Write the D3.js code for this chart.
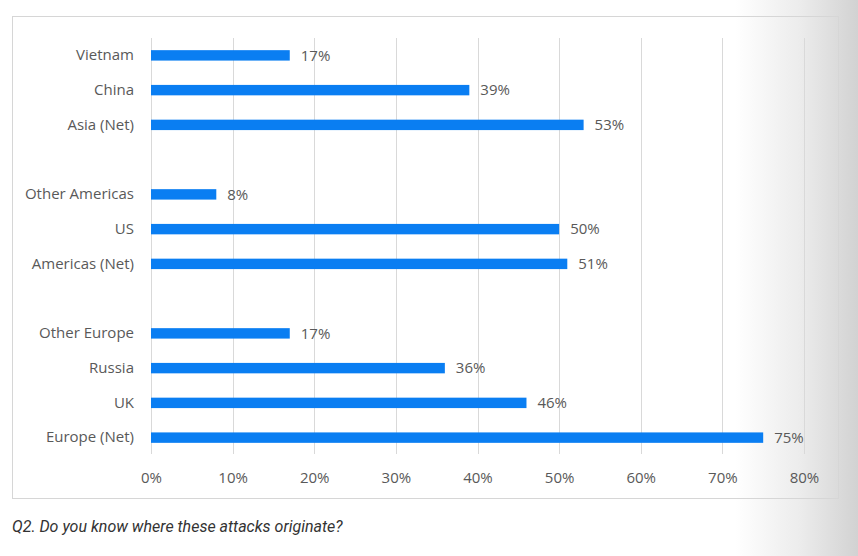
<!DOCTYPE html>
<html>
<head>
<meta charset="utf-8">
<script src="https://cdn.jsdelivr.net/npm/d3@7"></script>
<style>
  html, body { margin: 0; padding: 0; }
  body {
    width: 858px; height: 556px; overflow: hidden;
    background: linear-gradient(to right, #fff 0px, #fff 735px, #ececec 800px, #d2d2d2 858px);
  }
</style>
</head>
<body>
<div id="chart"></div>
<script>
// categories top to bottom, blanks separate the regional groups
const categories = ["Vietnam", "China", "Asia (Net)", "", "Other Americas", "US", "Americas (Net)", " ",
                    "Other Europe", "Russia", "UK", "Europe (Net)"];
const values = [17, 39, 53, null, 8, 50, 51, null, 17, 36, 46, 75];
const ticks = [0, 10, 20, 30, 40, 50, 60, 70, 80];
const caption = "Q2. Do you know where these attacks originate?";

const W = 858, H = 556;
const margin = {top: 38, right: 54, bottom: 101, left: 151};
const font = "'Open Sans', sans-serif";

const svg = d3.select("#chart")
    .append("svg")
    .attr("width", W)
    .attr("height", H);

// frame round the chart
svg.append("rect")
    .attr("x", 12.5).attr("y", 16.5)
    .attr("width", 826).attr("height", 482)
    .attr("fill", "none")
    .attr("stroke", "#d6d6d6")
    .attr("stroke-width", 1);

const x = d3.scaleLinear()
    .domain([0, 80])
    .range([margin.left, 804]);

const y = d3.scaleBand()
    .domain(categories)
    .range([margin.top, 455])
    .paddingInner(0.7)
    .paddingOuter(0.35);

// vertical gridlines
svg.append("g")
    .selectAll("line")
    .data(ticks)
    .join("line")
    .attr("x1", d => Math.round(x(d)) + 0.5)
    .attr("x2", d => Math.round(x(d)) + 0.5)
    .attr("y1", margin.top)
    .attr("y2", 454)
    .attr("stroke", "#d9d9d9")
    .attr("stroke-width", 1);

// x axis labels
const xAxis = svg.append("g")
    .attr("transform", "translate(0, 454)")
    .call(d3.axisBottom(x).tickValues(ticks).tickFormat(d => d + "%").tickSize(0).tickPadding(18));
xAxis.select(".domain").remove();
xAxis.selectAll("text")
    .attr("fill", "#595959")
    .style("font-family", font)
    .style("font-size", "15px");

// y axis labels
const yAxis = svg.append("g")
    .attr("transform", `translate(${margin.left}, 0)`)
    .call(d3.axisLeft(y).tickSize(0).tickPadding(17));
yAxis.select(".domain").remove();
yAxis.selectAll("text")
    .attr("fill", "#595959")
    .style("font-family", font)
    .style("font-size", "15px");

const data = categories.map((c, i) => ({cat: c, val: values[i]})).filter(d => d.val !== null);

// bars
svg.append("g")
    .selectAll("rect")
    .data(data)
    .join("rect")
    .attr("x", x(0))
    .attr("y", d => y(d.cat))
    .attr("width", d => x(d.val) - x(0))
    .attr("height", y.bandwidth())
    .attr("fill", "#0a7ef2");

// value labels
svg.append("g")
    .selectAll("text")
    .data(data)
    .join("text")
    .attr("x", d => x(d.val) + 11)
    .attr("y", d => y(d.cat) + y.bandwidth() / 2)
    .attr("dy", "0.35em")
    .attr("fill", "#595959")
    .style("font-family", font)
    .style("font-size", "15px")
    .text(d => d.val + "%");

// caption under the frame
svg.append("text")
    .attr("x", 12)
    .attr("y", 532)
    .attr("fill", "#333")
    .style("font-family", "Roboto, sans-serif")
    .style("font-style", "italic")
    .style("font-size", "16px")
    .text(caption);
</script>
</body>
</html>
